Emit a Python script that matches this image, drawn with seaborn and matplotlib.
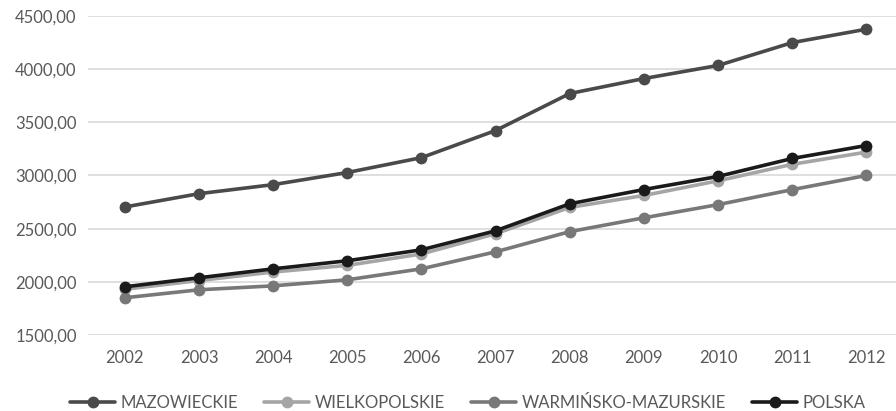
import pandas as pd
import seaborn as sns
import matplotlib.pyplot as plt
from matplotlib.ticker import FuncFormatter

# data
years = [2002, 2003, 2004, 2005, 2006, 2007, 2008, 2009, 2010, 2011, 2012]
mazowieckie = [2704, 2829, 2914, 3028, 3168, 3423, 3771, 3912, 4035, 4250, 4376]
wielkopolskie = [1930, 2012, 2092, 2155, 2262, 2452, 2700, 2812, 2950, 3105, 3220]
warminsko = [1850, 1925, 1962, 2019, 2122, 2282, 2472, 2602, 2726, 2867, 3000]
polska = [1953, 2038, 2122, 2198, 2301, 2480, 2734, 2868, 2991, 3160, 3282]

names = ['MAZOWIECKIE', 'WIELKOPOLSKIE', 'WARMIŃSKO-MAZURSKIE', 'POLSKA']
colors = ['#4a4a4a', '#a5a5a5', '#787878', '#1a1a1a']

frames = []
for name, vals in zip(names, [mazowieckie, wielkopolskie, warminsko, polska]):
    frames.append(pd.DataFrame({'rok': [str(y) for y in years], 'value': vals, 'seria': name}))
df = pd.concat(frames)

sns.set_style('white')
plt.rcParams['font.family'] = ['Lato', 'DejaVu Sans']

fig = plt.figure(figsize=(8.96, 4.11), dpi=100)
ax = fig.add_axes([0.098, 0.185, 0.902, 0.776])

sns.lineplot(data=df, x='rok', y='value', hue='seria', hue_order=names,
             palette=colors, marker='o', markersize=8.5, markeredgewidth=0,
             linewidth=2.6, ax=ax, sort=False)

ax.set_ylim(1500, 4500)
ax.set_xlim(-0.5, 10.4)
ax.set_yticks([1500, 2000, 2500, 3000, 3500, 4000, 4500])
ax.yaxis.set_major_formatter(FuncFormatter(lambda v, p: f'{v:.2f}'.replace('.', ',')))
ax.grid(axis='y', color='#d9d9d9', linewidth=1.2)
ax.set_axisbelow(True)
for s in ax.spines.values():
    s.set_visible(False)
ax.tick_params(axis='both', length=0, labelsize=12, labelcolor='#595959')
ax.tick_params(axis='x', pad=11)
ax.tick_params(axis='y', pad=8)
ax.set_xlabel('')
ax.set_ylabel('')

ax.legend(loc='lower center', bbox_to_anchor=(0.47, -0.285), ncol=4, frameon=False,
          fontsize=12, handlelength=2.7, columnspacing=1.6, handletextpad=0.3,
          labelcolor='#595959')

fig.savefig('out.png', dpi=100)
